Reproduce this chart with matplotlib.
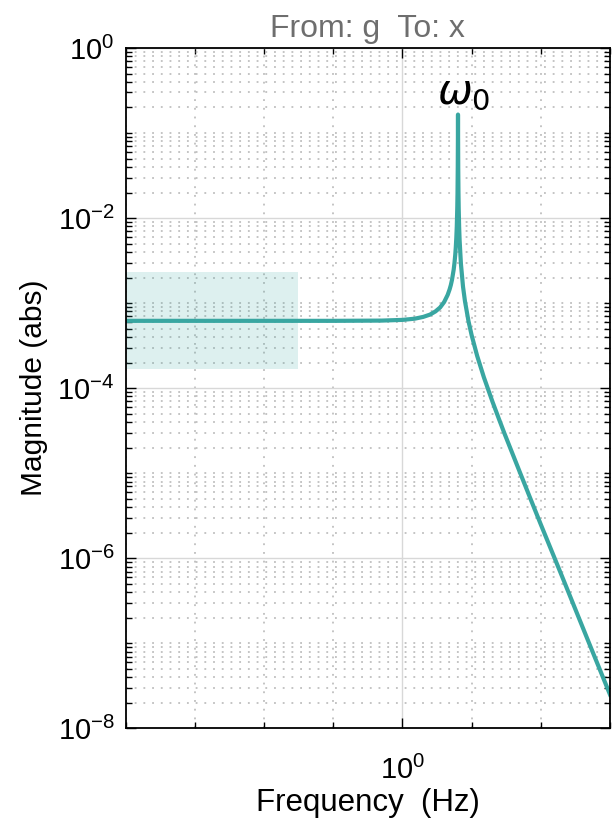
import numpy as np
import matplotlib.pyplot as plt

plt.rcParams['font.family'] = ['Liberation Sans', 'DejaVu Sans']
plt.rcParams['axes.unicode_minus'] = False

# magnitude of x/g
freq_hz = [1e-4, 1e-3, 1e-2, 0.1, 0.5, 1, 1.5, 2, 2.5, 3, 3.5, 4, 4.5, 4.8, 5, 5.2, 5.5,
           5.65, 5.8, 5.9, 6.0, 6.1, 6.2, 6.25, 6.3, 6.33, 6.35, 6.37, 6.4, 6.45, 6.5,
           6.6, 6.7, 7, 7.5, 8, 9, 10, 12, 15, 20, 25, 30, 50, 70, 100, 200, 500, 1000]
mag_abs = [6.2e-4, 6.2e-4, 6.2e-4, 6.2e-4, 6.24e-4, 6.36e-4, 6.57e-4, 6.9e-4, 7.34e-4,
           8.0e-4, 8.9e-4, 1.03e-3, 1.25e-3, 1.45e-3, 1.63e-3, 1.88e-3, 2.48e-3,
           2.98e-3, 3.74e-3, 4.54e-3, 5.8e-3, 8.0e-3, 1.33e-2, 1.99e-2, 4.0e-2, 8.5e-2,
           0.165, 8.5e-2, 3.9e-2, 1.96e-2, 1.3e-2,
           7.7e-3, 5.5e-3, 2.9e-3, 1.57e-3, 1.06e-3, 6.15e-4, 4.2e-4, 2.41e-4, 1.35e-4,
           6.95e-5, 4.28e-5, 2.9e-5, 1.02e-5, 5.14e-6, 2.5e-6, 6.3e-7, 1.0e-7, 2.5e-8]

# shaded band (low-frequency region)
band_f = [1e-4, 0.031]
band_mag = [1.7e-4, 2.3e-3]

peak_label = r'$\omega_0$'
peak_pos = (7.8, 0.172)

x_range = [1e-4, 1e3]
y_range = [1e-8, 1e0]
y_major = [1e-8, 1e-6, 1e-4, 1e-2, 1e0]
x_major = [1e0]
x_minor = [1e-4, 1e-3, 1e-2, 1e-1, 1e1, 1e2, 1e3]

color = '#39a6a1'

fig = plt.figure(figsize=(6.15, 8.36), dpi=100)
ax = fig.add_axes([0.2044, 0.1286, 0.7875, 0.814])

ax.fill_between(band_f, band_mag[0], band_mag[1], color=color, alpha=0.17, lw=0)
ax.plot(freq_hz, mag_abs, color=color, lw=3)

ax.set_xscale('log')
ax.set_yscale('log')
ax.set_xlim(x_range)
ax.set_ylim(y_range)

ax.set_xticks(x_major)
ax.set_xticks(x_minor, minor=True)
ax.set_xticklabels([r'$\mathdefault{10^{0}}$'])
ax.set_xticklabels([''] * len(x_minor), minor=True)

y_minor = [m * 10.0**k for k in range(-8, 0) for m in range(1, 10)
           if not (m == 1 and k % 2 == 0)]
ax.set_yticks(y_major)
ax.set_yticks(y_minor, minor=True)
ax.set_yticklabels([r'$\mathdefault{10^{%d}}$' % int(np.log10(v)) for v in y_major])
ax.set_yticklabels([''] * len(y_minor), minor=True)

ax.tick_params(which='both', direction='in', top=True, right=True, width=1)
ax.tick_params(which='major', length=7, labelsize=21)
ax.tick_params(axis='x', which='major', pad=20)
ax.tick_params(axis='y', which='major', pad=8)
ax.tick_params(which='minor', length=4)

ax.grid(which='major', color='#d8d8d8', lw=1, ls='-')
ax.grid(which='minor', color='#b4b4b4', lw=1.1, ls=(0, (1.2, 4.5)))
ax.set_axisbelow(True)
for s in ax.spines.values():
    s.set_linewidth(1.3)

ax.set_xlabel('Frequency  (Hz)', fontsize=22.5, labelpad=2)
ax.set_ylabel('Magnitude (abs)', fontsize=21.5, labelpad=7)
ax.set_title('From: g  To: x', fontsize=23, color='#6e6e6e', pad=8)

ax.text(peak_pos[0], peak_pos[1], peak_label, fontsize=30, ha='center', va='bottom')

fig.savefig('out.png', dpi=100)
